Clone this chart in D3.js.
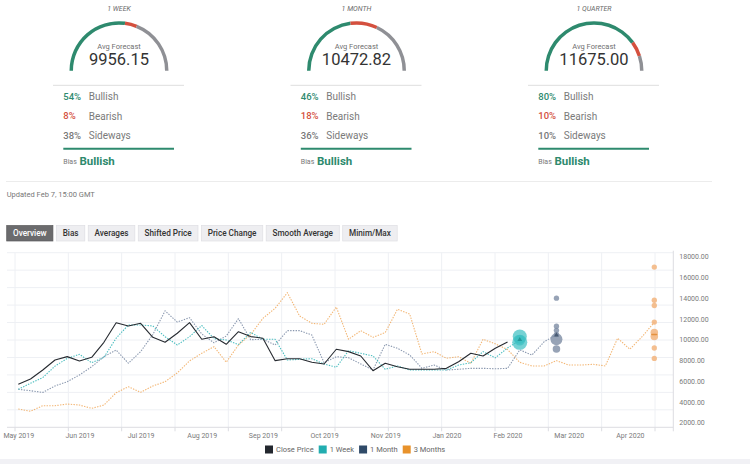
<!DOCTYPE html>
<html>
<head>
<meta charset="utf-8">
<script src="https://cdn.jsdelivr.net/npm/d3@7"></script>
<style>
    body { margin: 0; background: #fff; }
    svg text { font-family: Roboto, "Noto Sans", sans-serif; }
</style>
</head>
<body>
<svg id="chart" width="750" height="464"></svg>
<script>
// forecast poll summary
const horizons = ['1 WEEK', '1 MONTH', '1 QUARTER'];
const avgForecast = [9956.15, 10472.82, 11675.00];
const bullish = [54, 46, 80];
const bearish = [8, 18, 10];
const sideways = [38, 36, 10];
const bias = ['Bullish', 'Bullish', 'Bullish'];

const tabs = ['Overview', 'Bias', 'Averages', 'Shifted Price', 'Price Change', 'Smooth Average', 'Minim/Max'];
const seriesNames = ['Close Price', '1 Week', '1 Month', '3 Months'];

// weekly points, one label every 5 weeks
const xTickLabels = ['May 2019', 'Jun 2019', 'Jul 2019', 'Aug 2019', 'Sep 2019', 'Oct 2019',
    'Nov 2019', 'Jan 2020', 'Feb 2020', 'Mar 2020', 'Apr 2020'];
const yTicks = [2000, 4000, 6000, 8000, 10000, 12000, 14000, 16000, 18000];

const closePrice = [5700, 6210, 7080, 8040, 8370, 7950, 8300, 9750, 11640, 11320,
    11580, 10230, 9750, 10620, 11640, 10040, 10290, 9560, 10770, 10300,
    10140, 7980, 8170, 8170, 7820, 7660, 9080, 8850, 8430, 7010,
    7730, 7400, 7150, 7150, 7150, 7240, 7880, 8690, 8430, 9170, 9780];
const week1 = [5220, 5800, 6350, 7450, 8200, 8590, 7780, 8300, 10140, 11420,
    11420, 11320, 10290, 9490, 10290, 11370, 10100, 9970, 9530, 10700,
    10040, 10040, 8040, 8110, 8170, 7660, 7340, 8940, 8690, 8430,
    7150, 7470, 7080, 7080, 7080, 7080, 7560, 7780, 8850, 8250, 9200, 9956];
const month1 = [5220, 5080, 4920, 5540, 5950, 6600, 7400, 8360, 9010, 7730,
    8850, 10500, 12780, 11700, 12120, 10550, 9700, 10350, 12030, 10000,
    10040, 9490, 10870, 10870, 10450, 7780, 8360, 8270, 7660, 7080,
    9560, 9170, 8530, 7240, 7560, 7080, 7150, 7240, 7240, 7200,
    7240, 9010, 8530, 9810, 10473];
const months3 = [3320, 3100, 3640, 3640, 3800, 3700, 3380, 3700, 4890, 5470,
    4930, 5540, 5950, 6800, 7950, 8690, 9330, 7830, 9490, 10500,
    12060, 13030, 14530, 12290, 11580, 11480, 13150, 10040, 10870, 10230,
    10680, 12930, 12480, 8620, 8850, 8210, 8360, 7730, 10040, 9600,
    9050, 7820, 7470, 7470, 7980, 7560, 7560, 7630, 7470, 10140,
    9080, 10290, 11675];

// individual forecasts [value, count]
const week1Poll = [[10300, 7], [9750, 8], [9950, 4]];
const month1Poll = [[14000, 1], [11300, 1], [10900, 1], [10500, 1], [10050, 5], [9100, 2]];
const months3Poll = [[17000, 1], [13800, 1], [13300, 1], [11700, 1], [10700, 2], [10300, 2], [9200, 1], [8200, 1]];
const pollMedian = [10000, 10450, 10500];

const green = '#2e8a6e', red = '#d4503e', grey = '#8f9095';
const colors = ['#262a30', '#2bb3b5', '#5d7090', '#ee9a3e'];
const legendColors = ['#23272e', '#22adb0', '#2f4a68', '#e8922b'];

const svg = d3.select('#chart');

// ---------- gauges ----------
const cx = d3.scalePoint().domain(horizons).range([119, 594]);
const arc = d3.arc().innerRadius(46).outerRadius(49.5);

horizons.forEach((h, i) => {
    const c = cx(h);
    const g = svg.append('g');
    g.append('text').attr('x', c).attr('y', 9).attr('text-anchor', 'middle')
        .attr('dominant-baseline', 'middle').attr('font-size', 7).attr('font-style', 'italic')
        .attr('fill', '#6a6a6a').text(h);

    const parts = [bullish[i], bearish[i], sideways[i]];
    const cols = [green, red, grey];
    let acc = 0;
    parts.forEach((p, j) => {
        const a0 = -Math.PI / 2 + acc / 100 * Math.PI;
        acc += p;
        const a1 = -Math.PI / 2 + acc / 100 * Math.PI;
        g.append('path').attr('transform', `translate(${c},70.7)`)
            .attr('d', arc({ startAngle: a0, endAngle: a1 })).attr('fill', cols[j]);
    });

    g.append('text').attr('x', c).attr('y', 47).attr('text-anchor', 'middle')
        .attr('dominant-baseline', 'middle').attr('font-size', 7.5).attr('fill', '#6f6f6f')
        .text('Avg Forecast');
    g.append('text').attr('x', c).attr('y', 61).attr('text-anchor', 'middle')
        .attr('dominant-baseline', 'middle').attr('font-size', 16.5).attr('fill', '#333')
        .text(avgForecast[i].toFixed(2));

    g.append('line').attr('x1', c - 66).attr('x2', c + 65).attr('y1', 85.3).attr('y2', 85.3)
        .attr('stroke', '#dedede').attr('stroke-width', 1);

    const rows = [[bullish[i], 'Bullish', green], [bearish[i], 'Bearish', red], [sideways[i], 'Sideways', '#777']];
    rows.forEach((r, j) => {
        const yy = 97.5 + j * 19.4;
        g.append('text').attr('x', c - 55.7).attr('y', yy).attr('dominant-baseline', 'middle')
            .attr('font-size', 9.5).attr('font-weight', 500).attr('fill', r[2]).text(r[0] + '%');
        g.append('text').attr('x', c - 30.3).attr('y', yy).attr('dominant-baseline', 'middle')
            .attr('font-size', 10).attr('fill', '#7a7a7a').text(r[1]);
    });

    g.append('line').attr('x1', c - 55.7).attr('x2', c + 55).attr('y1', 148.7).attr('y2', 148.7)
        .attr('stroke', green).attr('stroke-width', 2);
    g.append('text').attr('x', c - 55.7).attr('y', 162.5).attr('dominant-baseline', 'middle')
        .attr('font-size', 7).attr('fill', '#777').text('Bias');
    g.append('text').attr('x', c - 39.5).attr('y', 162).attr('dominant-baseline', 'middle')
        .attr('font-size', 11.5).attr('font-weight', 700).attr('fill', green).text(bias[i]);
});

svg.append('line').attr('x1', 6).attr('x2', 712).attr('y1', 181.5).attr('y2', 181.5)
    .attr('stroke', '#ececec');
svg.append('text').attr('x', 6.7).attr('y', 195).attr('dominant-baseline', 'middle')
    .attr('font-size', 7.5).attr('fill', '#777').text('Updated Feb 7, 15:00 GMT');

// ---------- tabs ----------
let tx = 6.7;
tabs.forEach((t, i) => {
    const g = svg.append('g');
    const rect = g.append('rect').attr('y', 225.5).attr('height', 15.5)
        .attr('fill', i === 0 ? '#6b6b6d' : '#eeeef1')
        .attr('stroke', i === 0 ? '#5a5a5c' : '#dedee3').attr('stroke-width', 0.7);
    const txt = g.append('text').attr('y', 233.5).attr('dominant-baseline', 'middle')
        .attr('font-size', 8.2).attr('font-weight', 500)
        .attr('fill', i === 0 ? '#fff' : '#333').text(t);
    const w = txt.node().getComputedTextLength() + 12.6;
    rect.attr('x', tx).attr('width', w);
    txt.attr('x', tx + 6.3);
    tx += w + 3.4;
});

// ---------- main chart ----------
const plot = { left: 7, right: 673.3, top: 252.7, bottom: 427.3 };

const x = d3.scaleLinear().domain([0, 52]).range([18.3, 654.3]);
const y = d3.scaleLinear().domain([2000, 18000]).range([422.7, 256.7]);

const grid = svg.append('g').attr('stroke', '#eef0f4').attr('stroke-width', 1);
const gy = d3.scaleLinear().domain([0, 10]).range([plot.top, plot.bottom]);
d3.range(10).forEach(k => {
    grid.append('line').attr('x1', plot.left).attr('x2', plot.right)
        .attr('y1', gy(k)).attr('y2', gy(k));
});
const gx = d3.scaleLinear().domain([0, 12]).range([15, 655]);
d3.range(13).forEach(k => {
    grid.append('line').attr('x1', gx(k)).attr('x2', gx(k))
        .attr('y1', plot.top).attr('y2', plot.bottom);
});

// axes lines and ticks
svg.append('line').attr('x1', plot.left).attr('x2', plot.right)
    .attr('y1', plot.bottom).attr('y2', plot.bottom).attr('stroke', '#dcdde2');
svg.append('line').attr('x1', plot.right).attr('x2', plot.right)
    .attr('y1', plot.top - 2).attr('y2', plot.bottom + 4).attr('stroke', '#dcdde2');
d3.range(13).forEach(k => {
    svg.append('line').attr('x1', gx(k)).attr('x2', gx(k))
        .attr('y1', plot.bottom).attr('y2', plot.bottom + 4).attr('stroke', '#dcdde2');
});

const xAxis = svg.append('g').attr('transform', `translate(0,${plot.bottom})`)
    .call(d3.axisBottom(x).tickValues(d3.range(0, 51, 5))
        .tickFormat((d, i) => xTickLabels[i]).tickSize(0).tickPadding(6));
xAxis.select('.domain').remove();
xAxis.selectAll('text').attr('font-size', 7).attr('fill', '#7a7a7a')
    .style('font-family', 'Roboto, sans-serif');

const yAxis = svg.append('g').attr('transform', `translate(${plot.right},0)`)
    .call(d3.axisRight(y).tickValues(yTicks).tickFormat(d => d.toFixed(2))
        .tickSize(0).tickPadding(6));
yAxis.select('.domain').remove();
yAxis.selectAll('text').attr('font-size', 7).attr('fill', '#7a7a7a')
    .style('font-family', 'Roboto, sans-serif');

// series
const line = d3.line().x((d, i) => x(i)).y(d => y(d));
const series = [
    { data: months3, color: colors[3], dash: '1.4,1.3', op: 0.72 },
    { data: month1, color: colors[2], dash: '1.4,1.3', op: 0.72 },
    { data: week1, color: colors[1], dash: '1.4,1.3', op: 0.85 },
    { data: closePrice, color: colors[0], dash: null, op: 1 },
];
series.forEach(s => {
    svg.append('path').datum(s.data)
        .attr('fill', 'none')
        .attr('stroke', s.color)
        .attr('stroke-width', 1.1)
        .attr('stroke-opacity', s.op)
        .attr('stroke-dasharray', s.dash)
        .attr('stroke-linejoin', 'round')
        .attr('d', line);
});

// forecast polls
const r = d3.scaleSqrt().domain([0, 9]).range([0, 8]);
const polls = [
    { data: week1Poll, at: week1.length - 1, fill: '#3bbfc2', op: 0.7, mark: '#1e8d90' },
    { data: month1Poll, at: month1.length - 1, fill: '#7d8ca4', op: 0.8, mark: '#3b4d66' },
    { data: months3Poll, at: months3.length - 1, fill: '#f2b47c', op: 0.85, mark: '#e08a30' },
];
polls.forEach((p, i) => {
    svg.append('g').selectAll('circle').data(p.data).join('circle')
        .attr('cx', x(p.at)).attr('cy', d => y(d[0])).attr('r', d => r(d[1]))
        .attr('fill', p.fill).attr('fill-opacity', p.op);
    svg.append('path')
        .attr('transform', `translate(${x(p.at)},${y(pollMedian[i])})`)
        .attr('d', i === 2 ? 'M-3,0H3' : d3.symbol(d3.symbolTriangle, 10)())
        .attr('fill', p.mark).attr('stroke', p.mark).attr('stroke-width', i === 2 ? 1.2 : 0)
        .attr('opacity', 0.8);
});

// legend
let lx = 265;
seriesNames.forEach((n, i) => {
    svg.append('rect').attr('x', lx).attr('y', 445.5).attr('width', 8).attr('height', 8)
        .attr('fill', legendColors[i]);
    const t = svg.append('text').attr('x', lx + 11).attr('y', 449.8)
        .attr('dominant-baseline', 'middle').attr('font-size', 7.5).attr('fill', '#666').text(n);
    lx += 11 + t.node().getComputedTextLength() + 5;
});

svg.append('rect').attr('x', 0).attr('y', 459).attr('width', 750).attr('height', 5)
    .attr('fill', '#f1f1f5');
</script>
</body>
</html>
